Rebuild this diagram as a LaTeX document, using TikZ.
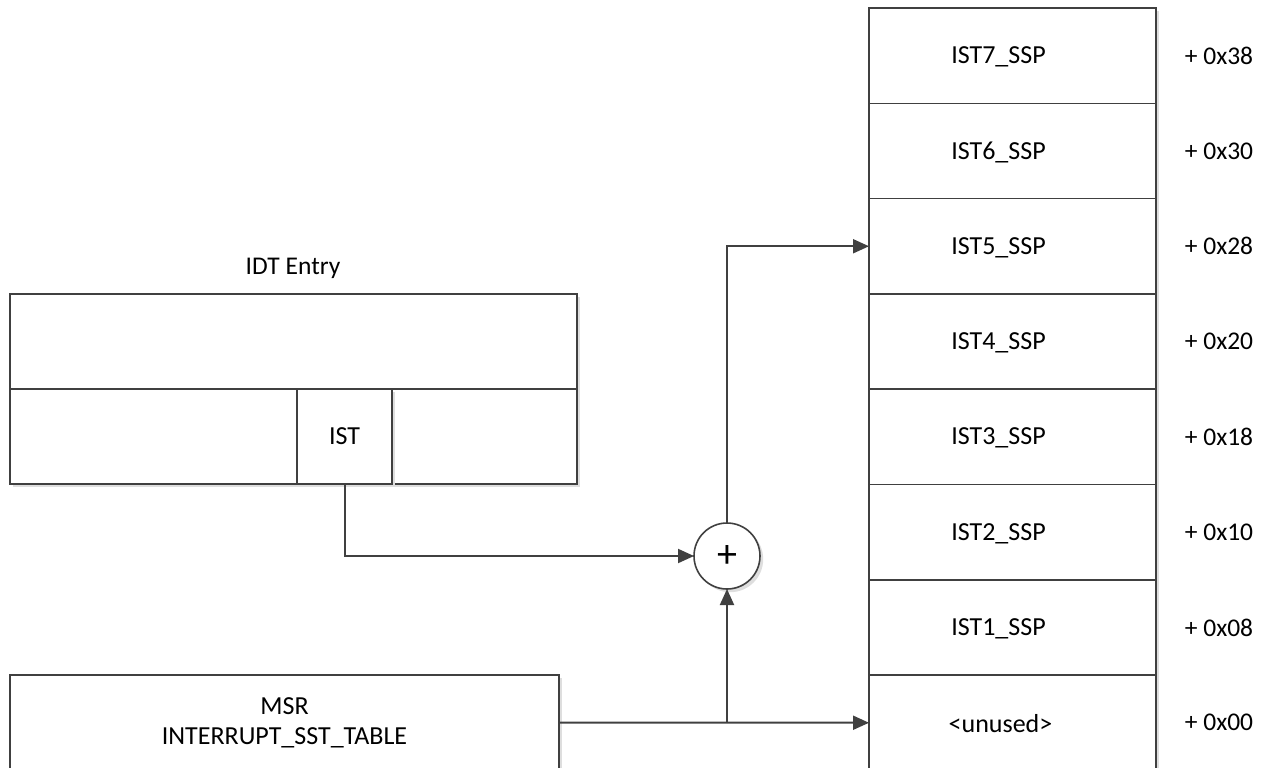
\documentclass[tikz,border=0pt]{standalone}
\usepackage{fontspec}
\setmainfont{Carlito}
\usetikzlibrary{arrows.meta,shadows}
\definecolor{linec}{HTML}{404040}
\tikzset{
  px/.style={x=0.5pt,y=-0.5pt},
  shad/.style={general shadow={fill=black!13, shadow xshift=1.6pt, shadow yshift=-1.6pt}},
  cell/.style={draw=linec, line width=0.8pt, fill=white, shad, inner sep=0pt, outer sep=0pt,
    font=\fontsize{13}{15}\selectfont, align=center},
  rowbox/.style={cell, minimum width=143.5pt, minimum height=47.65pt},
  rowtext/.style={font=\fontsize{13}{15}\selectfont, inner sep=0pt, xshift=-7pt, yshift=-0.6pt},
  offs/.style={font=\fontsize{12.75}{15}\selectfont, inner sep=0pt},
  lbl/.style={font=\fontsize{12.75}{15}\selectfont, inner sep=0pt},
  arr/.style={draw=linec, line width=1pt, -{Triangle[length=8pt,width=7pt]}}
}
\begin{document}
\begin{tikzpicture}[px]
\useasboundingbox (0,0) rectangle (1270,767);
% IDT entry
\node[lbl] (idtlbl) at (293,268) {IDT Entry};
\node[cell, minimum width=283.5pt, minimum height=47.5pt] (idttop) at (293.5,341.5) {};
\node[cell, minimum width=143.5pt, minimum height=47.5pt] (idtl) at (153.5,436.5) {};
\node[cell, minimum width=92.5pt, minimum height=47.5pt] (idtr) at (484.5,436.5) {};
\node[cell, minimum width=47.5pt, minimum height=47.5pt] (ist) at (344.5,436.5) {IST};
% MSR
\node[cell, minimum width=274.5pt, minimum height=47.5pt] (msr) at (284.5,722.5) {MSR\\INTERRUPT\_SST\_TABLE};
% adder
\node[cell, circle, minimum size=33pt] (plus) at (727,556) {\fontsize{20}{20}\selectfont +};
% table rows
\node[rowbox] (r7) at (1012.5,55.65) {};
\node[rowbox] (r6) at (1012.5,150.95) {};
\node[rowbox] (r5) at (1012.5,246.25) {};
\node[rowbox] (r4) at (1012.5,341.55) {};
\node[rowbox] (r3) at (1012.5,436.85) {};
\node[rowbox] (r2) at (1012.5,532.15) {};
\node[rowbox] (r1) at (1012.5,627.45) {};
\node[rowbox] (r0) at (1012.5,722.75) {};
\node[rowtext] (t7) at (r7) {IST7\_SSP};
\node[rowtext] (t6) at (r6) {IST6\_SSP};
\node[rowtext] (t5) at (r5) {IST5\_SSP};
\node[rowtext] (t4) at (r4) {IST4\_SSP};
\node[rowtext] (t3) at (r3) {IST3\_SSP};
\node[rowtext] (t2) at (r2) {IST2\_SSP};
\node[rowtext] (t1) at (r1) {IST1\_SSP};
\node[rowtext, xshift=1pt] (t0) at (r0) {<unused>};
% offsets
\node[offs] (o7) at (1219,55.65) {+ 0x38};
\node[offs] (o6) at (1219,150.95) {+ 0x30};
\node[offs] (o5) at (1219,246.25) {+ 0x28};
\node[offs] (o4) at (1219,341.55) {+ 0x20};
\node[offs] (o3) at (1219,436.85) {+ 0x18};
\node[offs] (o2) at (1219,532.15) {+ 0x10};
\node[offs] (o1) at (1219,627.45) {+ 0x08};
\node[offs] (o0) at (1219,722.75) {+ 0x00};
% connectors
\coordinate (j) at (plus |- msr.east);
\draw[arr] (ist.south) |- (plus.west);
\draw[arr] (msr.east) -- (r0.west);
\draw[arr] (j) -- (plus.south);
\draw[arr] (plus.north) |- (r5.west);
\end{tikzpicture}
\end{document}
